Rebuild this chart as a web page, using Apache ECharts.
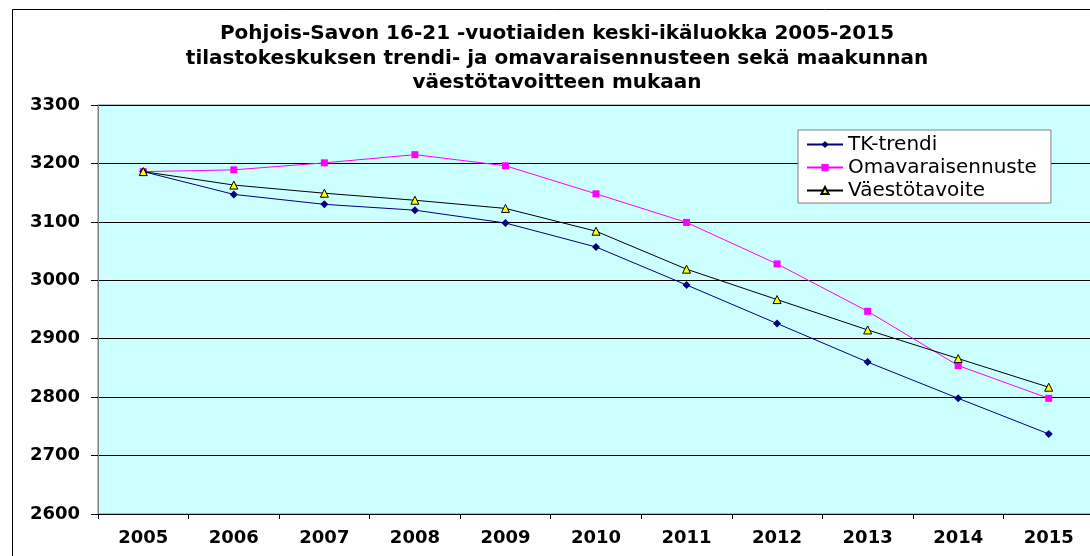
<!DOCTYPE html>
<html>
<head>
<meta charset="utf-8">
<script src="https://cdn.jsdelivr.net/npm/echarts@6/dist/echarts.min.js"></script>
<style>
  html, body { margin: 0; padding: 0; background: #fff; overflow: hidden; }
  /* kaavio jatkuu hieman oikean reunan yli kuten alkuperäisessä */
  #chart { width: 1094px; height: 556px; }
</style>
</head>
<body>
<div id="chart"></div>
<script>
// vuodet
const years = ['2005', '2006', '2007', '2008', '2009', '2010', '2011', '2012', '2013', '2014', '2015']
// sarjat
const tkTrendi = [3186, 3147, 3130, 3120, 3098, 3057, 2992, 2926, 2860, 2798, 2737]
const omavarainen = [3186, 3189, 3201, 3215, 3196, 3148, 3099, 3028, 2947, 2854, 2798]
const vaestotavoite = [3186, 3163, 3149, 3137, 3123, 3084, 3019, 2967, 2915, 2866, 2817]
const seriesNames = ['TK-trendi', 'Omavaraisennuste', 'Väestötavoite']
const titleText = 'Pohjois-Savon 16-21 -vuotiaiden keski-ikäluokka 2005-2015\ntilastokeskuksen trendi- ja omavaraisennusteen sekä maakunnan\nväestötavoitteen mukaan'

const chart = echarts.init(document.getElementById('chart'))

const option = {
  animation: false,
  backgroundColor: '#fff',
  title: {
    text: titleText,
    left: 552,
    top: 17,
    textAlign: 'center',
    textStyle: {
      fontFamily: 'DejaVu Sans',
      fontWeight: 'bold',
      fontSize: 20,
      lineHeight: 24.5,
      color: '#000'
    }
  },
  graphic: [
    {
      // kaavion ulkoreunus
      type: 'rect',
      left: 10, top: 7, z: -10,
      shape: { width: 1200, height: 700 },
      style: { fill: 'none', stroke: '#000', lineWidth: 1 }
    }
  ],
  legend: {
    orient: 'vertical',
    left: 798,
    top: 130,
    data: seriesNames,
    backgroundColor: '#fff',
    borderColor: '#808080',
    borderWidth: 1,
    borderRadius: 0,
    padding: [4, 14, 2, 8],
    itemWidth: 36,
    itemHeight: 9,
    itemGap: 2,
    textStyle: {
      fontFamily: 'DejaVu Sans',
      fontSize: 20,
      lineHeight: 21,
      color: '#000'
    }
  },
  grid: {
    left: 98,
    top: 105,
    right: 0,
    height: 409,
    show: true,
    backgroundColor: '#CCFFFF',
    borderColor: '#808080',
    borderWidth: 1
  },
  xAxis: {
    type: 'category',
    data: years,
    boundaryGap: true,
    axisLine: { lineStyle: { color: '#000', width: 1 } },
    axisTick: { show: true, length: 5, lineStyle: { color: '#000' } },
    axisLabel: {
      margin: 15,
      fontFamily: 'DejaVu Sans',
      fontWeight: 'bold',
      fontSize: 18,
      color: '#000'
    },
    splitLine: { show: false }
  },
  yAxis: {
    type: 'value',
    min: 2600,
    max: 3300,
    interval: 100,
    axisLine: { show: true, lineStyle: { color: '#808080', width: 1 } },
    axisTick: { show: true, length: 7, lineStyle: { color: '#000' } },
    axisLabel: {
      margin: 18,
      fontFamily: 'DejaVu Sans',
      fontWeight: 'bold',
      fontSize: 18,
      color: '#000',
      formatter: v => String(v)
    },
    splitLine: { show: true, lineStyle: { color: '#000', width: 1 } }
  },
  series: [
    {
      name: seriesNames[0],
      type: 'line',
      data: tkTrendi,
      symbol: 'diamond',
      symbolSize: 8,
      lineStyle: { color: '#000080', width: 1 },
      itemStyle: { color: '#000080' },
      z: 3
    },
    {
      name: seriesNames[1],
      type: 'line',
      data: omavarainen,
      symbol: 'rect',
      symbolSize: 7,
      lineStyle: { color: '#FF00FF', width: 1 },
      itemStyle: { color: '#FF00FF' },
      z: 2
    },
    {
      name: seriesNames[2],
      type: 'line',
      data: vaestotavoite,
      symbol: 'triangle',
      symbolSize: 8,
      lineStyle: { color: '#000', width: 1 },
      itemStyle: { color: '#FFFF00', borderColor: '#000', borderWidth: 1 },
      z: 4
    }
  ]
}

chart.setOption(option)
</script>
</body>
</html>
